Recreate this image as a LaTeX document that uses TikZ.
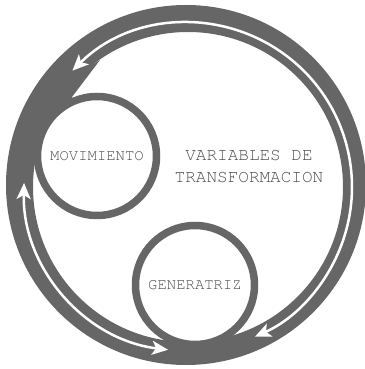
\documentclass[tikz,border=0pt]{standalone}
\usepackage[T1]{fontenc}
\usepackage{courier}
\usepackage{tikz}
\usetikzlibrary{arrows.meta,positioning}
\definecolor{ringgray}{HTML}{666666}
\definecolor{labelgray}{HTML}{4D4D4D}

\begin{document}
\begin{tikzpicture}
  [x=1pt,y=1pt,
  wheel/.style={circle, draw=ringgray, line width=7.5pt, fill=white,
    minimum size=119pt, inner sep=0pt, text=labelgray,
    font=\ttfamily\fontsize{15.6}{18}\selectfont},
  title/.style={text=labelgray, align=center,
    font=\ttfamily\fontsize{17.7}{22}\selectfont},
  flow/.style={draw=white, line width=2.5pt,
    {Stealth[length=16pt,width=14pt,inset=4pt]}-{Stealth[length=16pt,width=14pt,inset=4pt]}}]
  \useasboundingbox (0,0) rectangle (364,369);
  \coordinate (outer) at (186,184);
  \coordinate (inner) at (188,182);
  % thick ring
  \fill[ringgray, even odd rule] (outer) circle[radius=180]
    (inner) circle[radius=155];
  % filler where the ring meets the upper circle
  \fill[ringgray] (100,309) -- (72,272) -- (97,213) -- (22,235)
    -- (60,285) -- cycle;
  % arrows running inside the ring
  \begin{scope}[every path/.style=flow]
    \path ([shift={(134.8:164)}]inner) arc[start angle=134.8,
      end angle=-65.9, radius=164];
    \path ([shift={(178.6:164)}]inner) arc[start angle=178.6,
      end angle=263, radius=164];
  \end{scope}
  \node[wheel] (mov) at (97,213) {MOVIMIENTO};
  \node[wheel] (gen) at (195,84) {GENERATRIZ};
  \node[title] (vars) at (249,203) {VARIABLES DE\\TRANSFORMACION};
\end{tikzpicture}
\end{document}
